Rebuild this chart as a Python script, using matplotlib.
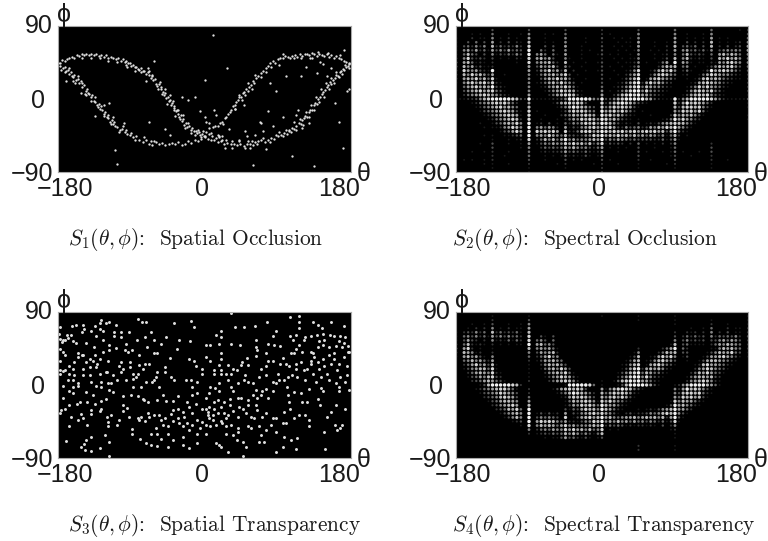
import matplotlib
matplotlib.use("Agg")
import matplotlib.pyplot as plt
import numpy as np

# values, theta / phi in degrees
s1_curve_a = [(-180,45),(-178,44),(-175,48),(-172,47),(-169,49),(-166,50),(-163,52),(-160,51),(-157,54),(-154,53),(-151,55),(-148,54),(-145,56),(-142,54),(-139,55),(-136,54),(-133,55),(-130,53),(-127,54),(-124,52),(-121,54),(-118,51),(-115,52),(-112,50),(-109,49),(-106,50),(-103,47),(-100,49),(-98,46),(-96,47),(-94,44),(-92,45),(-90,41),(-88,42),(-86,39),(-84,40),(-82,37),(-80,36),(-78,38),(-76,34),(-74,35),(-72,31),(-70,33),(-68,29),(-66,26),(-65,29),(-63,23),(-61,25),(-59,19),(-58,16),(-56,18),(-54,12),(-53,15),(-51,9),(-50,5),(-48,8),(-47,1),(-45,3),(-44,-3),(-42,-1),(-41,-7),(-40,-5),(-38,-11),(-37,-9),(-35,-15),(-34,-13),(-32,-19),(-31,-22),(-29,-20),(-28,-27),(-26,-25),(-25,-32),(-23,-29),(-21,-34),(-19,-33),(-17,-38),(-15,-36),(-13,-40),(-11,-39),(-9,-42),(-7,-41),(-5,-44),(-3,-43),(-1,-46),(1,-45)]
s1_curve_b = [(-180,44),(-177,41),(-174,38),(-172,40),(-170,35),(-168,36),(-166,31),(-164,33),(-162,27),(-160,29),(-158,24),(-156,25),(-154,20),(-152,22),(-150,15),(-148,17),(-146,10),(-144,12),(-142,6),(-140,3),(-138,5),(-136,-2),(-134,-4),(-132,-8),(-130,-6),(-128,-12),(-126,-14),(-124,-18),(-122,-16),(-120,-22),(-118,-24),(-116,-28),(-114,-26),(-112,-31),(-110,-33),(-107,-35),(-104,-38),(-101,-37),(-98,-41),(-95,-43),(-92,-44),(-88,-47),(-84,-46),(-80,-50),(-76,-53),(-72,-51),(-68,-55),(-64,-57),(-60,-53),(-56,-56),(-52,-54),(-48,-57),(-44,-55),(-40,-54),(-36,-56),(-32,-53),(-28,-57),(-24,-55),(-20,-52),(-16,-54),(-12,-50),(-8,-52),(-4,-49),(0,-47),(4,-49),(8,-50),(12,-51),(16,-53),(20,-52),(24,-55),(28,-54),(32,-56),(36,-55),(40,-57),(44,-55),(48,-58),(52,-56),(56,-55),(60,-57)]
s1_curve_c = [(6,-36),(10,-35),(13,-33),(16,-33),(19,-30),(21,-28),(23,-31),(25,-24),(27,-22),(29,-19),(31,-16),(33,-13),(35,-9),(37,-7),(39,-4),(41,-1),(43,2),(45,3),(47,7),(49,9),(51,12),(53,10),(55,15),(57,17),(59,22),(61,20),(63,26),(66,28),(69,32),(72,35),(75,38),(78,41),(81,44),(84,47),(87,45),(90,49),(93,51),(96,50),(99,53),(102,52),(105,51),(108,53),(111,54),(114,52),(117,55),(120,53),(123,56),(126,55),(129,54),(132,57),(135,55),(138,53),(141,56),(144,54),(147,53),(150,55),(153,52),(156,54),(159,51),(162,53),(165,50),(168,49),(171,47),(174,46),(177,44),(180,45)]
s1_curve_d = [(62,-53),(66,-52),(70,-51),(74,-53),(78,-50),(82,-48),(86,-49),(90,-46),(94,-44),(98,-42),(101,-43),(104,-39),(107,-36),(110,-37),(113,-33),(116,-30),(118,-31),(120,-26),(122,-24),(124,-21),(126,-22),(128,-16),(130,-13),(132,-14),(134,-8),(136,-5),(138,-6),(140,0),(142,2),(144,6),(146,9),(148,11),(150,15),(152,17),(154,21),(156,19),(158,24),(160,26),(162,29),(164,28),(166,33),(168,35),(170,37),(172,36),(174,40),(176,41),(178,43)]
s1_clumps = [(-176,36),(-171,33),(-167,38),(-163,28),(-159,20),(-155,28),(-151,20),(-147,6),(-143,8),(-139,-2),(-135,2),(-131,-10),(-127,-9),(-123,-21),(-119,-20),(-115,-31),(-111,-28),(-105,-41),(-100,-33),(-96,-38),(-90,-42),(-85,-51),(-74,-47),(-66,-52),(-70,38),(-64,28),(-57,12),(-55,21),(-52,6),(-49,12),(-46,-6),(-43,5),(-39,-2),(-37,-14),(-33,-13),(-30,-25),(-27,-20),(-24,-36),(-20,-29),(-16,-42),(-12,-44),(-8,-38),(-4,-47),(-2,-39),(2,-41),(5,-43),(9,-46),(14,-48),(18,-46),(22,-50),(26,-51),(34,-52),(42,-52),(50,-60),(54,-52),(58,-52),(65,-55),(72,-48),(80,-53),(88,-44),(92,-41),(96,-46),(100,-38),(106,-41),(112,-38),(117,-25),(121,-32),(125,-16),(129,-22),(131,-7),(135,-14),(137,2),(141,-4),(143,12),(147,3),(149,20),(153,12),(155,26),(159,20),(161,33),(165,27),(169,31),(173,42),(177,38),(38,-12),(42,5),(46,-1),(50,5),(54,20),(58,12),(62,29),(70,27),(76,33),(82,39),(-150,51),(-140,50),(-128,50),(-118,47),(-107,46),(-96,42),(-86,35),(-78,33),(-68,34),(96,55),(110,50),(118,50),(130,50),(140,58),(152,57),(166,54)]
s1_stray = [(10,79),(-170,22),(-162,22),(-152,8),(-145,5),(-135,-21),(-123,-8),(-117,-5),(-112,-22),(-110,-63),(-108,-80),(-99,-29),(-95,40),(-72,22),(-68,-28),(-62,47),(-62,-52),(-48,-37),(-42,-44),(-36,-21),(-28,2),(-20,-1),(-12,2),(-6,-15),(0,24),(0,-22),(2,-28),(6,-30),(8,-42),(12,-14),(14,-20),(16,-44),(18,-47),(22,-46),(25,-60),(28,38),(30,-37),(34,-60),(38,-12),(42,-50),(48,-8),(50,-39),(52,-46),(56,-60),(60,-81),(62,-44),(68,-28),(70,-30),(72,-40),(75,-62),(78,-15),(80,20),(84,-33),(88,10),(92,42),(96,-22),(100,28),(104,-38),(108,-70),(110,-28),(113,-20),(115,-13),(118,28),(120,-36),(125,40),(128,-30),(132,50),(135,-82),(138,32),(142,46),(146,43),(150,28),(155,38),(160,-5),(165,-28),(170,-60),(172,60),(175,10),(178,12)]

s3_upper_left = [(-178,72),(-179,63),(-177,57),(-174,56),(-171,55),(-175,53),(-169,62),(-163,73),(-158,74),(-149,74),(-148,69),(-151,65),(-164,62),(-168,58),(-162,54),(-158,52),(-145,52),(-136,47),(-178,45),(-174,41),(-172,37),(-156,39),(-151,37),(-178,30),(-166,24),(-162,20),(-174,17),(-177,14),(-166,14),(-160,12),(-149,20),(-141,22),(-132,26),(-129,32),(-135,37),(-125,41),(-119,30),(-117,49),(-125,55),(-133,61),(-140,67),(-135,73),(-129,76),(-127,80),(-121,77),(-117,78),(-109,74),(-125,67),(-129,69),(-111,65),(-102,65),(-102,59),(-93,65),(-111,60),(-117,43),(-109,46),(-96,51),(-98,43),(-94,41),(-92,28),(-102,28),(-105,24),(-100,20),(-92,22),(-80,25),(-73,26),(-68,26),(-82,14),(-88,14),(-84,10),(-58,16),(-60,10),(-62,6),(-75,20),(-102,16),(-113,12),(-120,16),(-128,14),(-149,12),(-141,12),(-133,22),(-137,30),(-82,81),(-77,78),(-72,78),(-38,76),(-17,79),(-13,71),(-62,56),(-73,59),(-83,56),(-54,50),(-47,59),(-31,56),(-18,54),(-71,47),(-89,43),(-80,37),(-62,39),(-58,39),(-43,33),(-34,44),(-19,32),(-13,30),(-11,24),(-49,22),(-49,16),(-41,10),(-37,6),(-23,6),(-17,6),(-9,4),(-3,14),(-3,20),(-66,65),(-168,6),(-162,6),(-156,2),(-139,4),(-127,4),(-121,16),(-115,2),(-107,6),(-96,6),(-88,8),(-72,4),(-64,4),(-119,2),(-160,28),(-156,35),(-145,28),(-141,32),(-171,18),(-177,19),(-149,37)]
s3_upper_right = [(33,89),(105,84),(116,85),(116,78),(133,78),(139,74),(144,70),(156,78),(171,73),(62,73),(49,71),(37,71),(77,78),(20,67),(14,62),(20,59),(88,67),(84,60),(105,61),(112,62),(116,70),(124,59),(131,60),(138,62),(145,63),(154,62),(159,60),(167,61),(173,59),(63,55),(109,55),(122,55),(141,54),(147,55),(165,54),(171,52),(2,49),(7,49),(18,50),(33,51),(44,49),(63,47),(65,43),(78,50),(86,49),(93,48),(116,49),(112,45),(120,41),(131,41),(139,47),(145,49),(153,47),(161,48),(169,47),(176,48),(177,41),(20,39),(2,35),(7,29),(20,32),(18,25),(29,25),(46,28),(52,33),(63,36),(45,25),(53,25),(76,39),(78,30),(84,29),(97,33),(106,39),(110,40),(133,39),(135,35),(145,32),(159,40),(159,32),(171,35),(176,41),(93,26),(100,26),(104,24),(112,26),(118,28),(131,30),(139,28),(147,24),(155,26),(165,26),(175,24),(75,23),(69,20),(12,18),(20,19),(35,20),(40,18),(12,13),(20,13),(27,13),(33,14),(50,12),(48,6),(75,12),(67,10),(90,13),(92,6),(84,4),(88,3),(98,6),(102,10),(108,12),(114,10),(112,20),(126,20),(133,14),(141,20),(143,10),(151,14),(153,6),(163,18),(167,10),(175,12),(18,3),(29,6),(41,3),(53,4),(59,3),(124,6),(137,4),(161,3),(173,4),(122,18),(131,26),(153,37)]
s3_lower_left = [(-174,-1),(-166,-8),(-162,-10),(-145,-9),(-137,-12),(-127,-2),(-117,-6),(-113,-9),(-121,-17),(-127,-20),(-135,-23),(-144,-21),(-153,-21),(-157,-23),(-174,-16),(-167,-25),(-172,-30),(-176,-31),(-178,-35),(-127,-29),(-128,-32),(-139,-31),(-140,-36),(-152,-36),(-149,-41),(-155,-43),(-164,-40),(-166,-50),(-144,-49),(-120,-40),(-119,-45),(-119,-51),(-105,-43),(-107,-49),(-100,-13),(-90,-12),(-82,-14),(-75,-17),(-100,-25),(-95,-28),(-100,-32),(-115,-37),(-93,-39),(-82,-41),(-78,-39),(-73,-44),(-89,-54),(-89,-61),(-79,-66),(-72,-71),(-66,-60),(-60,-53),(-58,-60),(-70,-34),(-68,-40),(-62,-37),(-56,-37),(-54,-43),(-49,-41),(-51,-49),(-45,-51),(-39,-44),(-33,-41),(-31,-47),(-27,-51),(-21,-47),(-15,-49),(-9,-43),(-3,-46),(-5,-53),(-19,-55),(-54,-66),(-45,-61),(-39,-68),(-27,-64),(-27,-74),(-45,-77),(-58,-75),(-66,-74),(-19,-78),(-9,-71),(-9,-60),(-139,-64),(-145,-68),(-148,-73),(-152,-77),(-147,-80),(-139,-81),(-128,-78),(-117,-70),(-117,-87),(-122,-62),(-170,-69),(-74,-18),(-70,-21),(-58,-18),(-51,-12),(-47,-20),(-39,-20),(-33,-14),(-21,-21),(-15,-12),(-15,-3),(-9,-10),(-39,-31),(-33,-29),(-27,-33),(-19,-27),(-11,-23),(-3,-29),(-15,-35),(-41,-36),(-25,-39),(-88,-3),(-78,-3),(-56,-2),(-162,-2),(-156,-1),(-133,-1),(-80,-43)]
s3_lower_right = [(7,-3),(13,-4),(33,-2),(35,-8),(18,-8),(6,-10),(2,-16),(17,-18),(24,-21),(31,-17),(41,-16),(45,-16),(53,-18),(59,-12),(63,-6),(71,-7),(75,-5),(84,-7),(69,-12),(65,-16),(78,-16),(101,-2),(102,-12),(110,-9),(118,-10),(129,-5),(143,-4),(145,-7),(165,-2),(165,-8),(177,-6),(104,-21),(120,-21),(126,-21),(139,-17),(142,-25),(161,-25),(173,-29),(2,-30),(6,-27),(4,-33),(12,-30),(20,-27),(24,-35),(29,-37),(35,-32),(43,-27),(47,-30),(51,-35),(63,-25),(65,-31),(75,-35),(71,-39),(84,-41),(88,-41),(98,-33),(105,-30),(116,-37),(124,-37),(110,-41),(155,-33),(150,-39),(6,-41),(10,-43),(20,-44),(27,-41),(22,-47),(2,-49),(7,-51),(14,-49),(27,-51),(33,-49),(41,-53),(53,-51),(57,-53),(67,-51),(75,-55),(82,-49),(88,-58),(96,-47),(100,-47),(98,-64),(106,-68),(114,-65),(129,-43),(129,-51),(147,-58),(160,-49),(163,-55),(167,-53),(169,-49),(2,-60),(27,-60),(35,-62),(41,-58),(40,-68),(47,-70),(51,-76),(14,-72),(18,-74),(20,-77),(67,-70),(73,-70),(69,-62),(96,-77),(112,-79),(88,-83),(29,-83),(47,-87),(148,-79),(4,-37),(10,-37),(16,-35),(57,-39),(61,-41),(53,-25),(41,-39),(31,-25),(12,-21)]

# brightness 0-9 on a 5 degree lattice, top row phi=90, left column theta=-180
s2_rows = [
"1 000000001 000000002 000000001 000000002 000000001 000000002 000000001 000000001",
"2 000000003 000000003 000000003 000000002 000000003 000000004 000000004 000000102",
"2 000101004 000100105 000101004 000000002 010000005 000000005 001000105 000000003",
"3 000201105 010201006 000100005 000010003 001010105 000000006 001010106 010100004",
"3 003040306 020302107 000101005 000010002 000101106 000100106 003020207 010101205",
"3 034252507 242325208 000303006 000100003 001010106 000100207 034240307 020302306",
"3 056362416 353634309 004204005 000101003 000101015 001010206 056342415 034545406",
"3 047430305 132425309 056404106 000100013 010100105 000101205 047323204 067576405",
"4 058323203 010102108 067563005 100100002 001010115 000101307 057212103 076867504",
"5 067412102 000001008 056674207 010010013 000101125 010014609 065101102 165786505",
"5 075623112 000000006 036567305 200100003 010010135 000025767 045010013 576785304",
"4 086563219 000000006 025685627 020010013 001001258 001368685 024100139 678764203",
"4 075867536 001000005 014667568 301000003 000102468 002578754 012001468 765532102",
"4 067685748 100000005 003576867 410010003 010013579 016786542 001013786 764321102",
"3 057867858 210000005 012467586 530100003 000124689 268675320 000126787 653210002",
"2 046786769 321000005 001256768 641000004 001235789 476553210 001358686 542100002",
"2 035678678 431000005 000135687 762100005 010246899 585432100 002578768 431000002",
"1 024567876 532100006 000024678 873100006 002478989 664321000 013678785 321000001",
"3 112235789 999987329 111112235 999998549 335789999 976321119 257999998 642111113",
"1 000124567 878642006 000001367 878730008 257898753 210000008 269787642 000000001",
"1 000012456 786754007 000000135 798764308 468787631 000000007 378878531 000000001",
"1 000001345 678763108 010000013 687875409 678686420 100000006 487868410 000000000",
"1 000000124 567876108 000100024 576787619 786753210 001000028 576753100 000000001",
"1 000000012 456787208 001000102 465878759 867532101 000001249 686532000 000000001",
"0 000001001 346768509 012030104 254687859 875312103 012135678 775310000 000000000",
"0 000000101 125687509 056465206 132567868 786325345 236576879 653100000 000000000",
"0 000000000 013468609 087878608 224788679 878786786 787867369 421000000 000000000",
"0 000000101 001123409 056586547 332355879 676867575 646535147 201000000 000000000",
"0 000000001 000101208 024757469 564556769 354654343 333224136 100000000 000000000",
"0 000001003 000100106 013546558 686757358 132320204 010102025 000000002 000000000",
"0 000000003 000000105 002434347 575453246 010101003 000100014 000000003 000000000",
"0 000100102 000100004 001212236 343242125 000100003 010001014 010001003 000000000",
"0 000000002 001000004 000101014 121131014 000000003 000000013 000100002 000000000",
"0 010100102 000000003 000100003 010100003 010000002 001000003 000000002 000100000",
"0 000000101 000100002 000000102 000000102 000100001 000000102 000000001 000000000",
"0 000000001 000000001 000000001 000000002 000000001 000000001 000000001 000000000",
"0 000000000 000000001 000000000 000000002 000000000 000000000 000000000 000000000",
]

s4_rows = [
"0 000000000 000000001 000000000 000000001 000000000 000000001 000000000 000000000",
"1 000000001 000000001 000000000 000000001 000000001 000000001 000000000 000000001",
"1 000000002 000000003 000000000 000000000 000000001 000000001 000000001 000000001",
"1 000100103 000100105 000000000 000000000 000000000 000000001 000000002 000100001",
"2 001020205 010201106 000000000 000000000 000000000 000000000 000100104 000201102",
"3 023252407 242324107 000000000 000000000 000000000 000000002 002120205 020301102",
"3 045352416 353534208 003103000 000000000 000000000 000000003 024242305 243435203",
"3 036320205 121414208 045304000 000000000 000000000 000000005 035232303 356465302",
"4 047212102 010101109 067453000 000000000 000000000 000000017 034111102 465765402",
"5 068201001 000000007 056564100 000000000 000000002 000002469 042000001 157675402",
"4 076512002 000000005 036567200 000000000 000000015 000024767 033000013 576684301",
"3 067563105 000000004 024685500 000000000 000000137 001268685 013000136 678653101",
"2 045756426 000000002 013667540 000000000 000001367 012578653 001001367 765421000",
"1 024685637 100000001 002576753 000000000 000012578 016786431 000012786 654210000",
"0 013567748 100000001 001467586 300000000 000013689 267675210 000025687 543100000",
"0 002467658 210000001 000256768 410000000 000135789 476442100 000247686 431000000",
"0 001346578 320000001 000135687 631000000 000246899 585321000 001467767 320000000",
"0 000234676 431000002 000024678 752000001 001478989 664210000 002567875 210000000",
"0 000001379 999987200 000000001 999998401 000137999 986310001 257999976 410000000",
"0 000012456 788641002 000001367 878730006 157898743 100000005 269787531 000000000",
"0 000001345 687653002 000000135 798764207 468787521 000000005 378878421 000000000",
"0 000000234 578763004 000000012 687875307 578686310 000000006 487867310 000000000",
"0 000000013 467765006 000000001 476787518 686542100 000000018 576642100 000000000",
"0 000000002 356786007 000000001 365878649 766421000 000000139 675421000 000000000",
"0 000000000 234768409 000000003 143687759 764210001 012135679 664200000 000000000",
"0 000000000 013567509 013131206 032567868 653102312 235457879 531000000 000000000",
"0 000000000 001357509 035454308 013678679 675456675 676757269 310000000 000000000",
"0 000000000 000012309 068787546 221355879 565756464 535424138 100000000 000000000",
"0 000000000 000000108 057676468 564556769 243431212 212103025 000000000 000000000",
"0 000000000 000000005 024546558 686757458 010100000 000000012 000000000 000000000",
"0 000000000 000000002 012324347 575353147 000000000 000000001 000000000 000000000",
"0 000000000 000000000 000101136 342131013 000000000 000000001 000000000 000000000",
"0 000000000 000000000 000000000 000000000 000000000 000000000 000000000 000000000",
"0 000000000 000000000 000000000 000000000 000000002 000000001 000000000 000000000",
"0 000000000 000000000 000000000 000000000 000000002 000000001 000000000 000000000",
"0 000000000 000000000 000000000 000000000 000000000 000000000 000000000 000000000",
"0 000000000 000000000 000000000 000000000 000000000 000000000 000000000 000000000",
]

captions = [r"$S_1(\theta,\phi)$:  Spatial Occlusion", r"$S_2(\theta,\phi)$:  Spectral Occlusion",
            r"$S_3(\theta,\phi)$:  Spatial Transparency", r"$S_4(\theta,\phi)$:  Spectral Transparency"]

W, H = 768, 541
plt.rcParams["mathtext.fontset"] = "cm"
sans = ["Liberation Sans", "DejaVu Sans"]
ink = "#1a1a1a"


def make_axes(fig, left, top, right, bottom):
    ax = fig.add_axes([left / W, 1 - bottom / H, (right - left) / W, (bottom - top) / H])
    ax.set_facecolor("black")
    ax.set_xlim(-180, 180)
    ax.set_ylim(-90, 90)
    for s in ax.spines.values():
        s.set_color("#a8a8a8")
        s.set_linewidth(0.8)
    ax.set_xticks([])
    ax.set_yticks([])
    # tick labels sit off-centre in the original, so they are placed one by one
    labels = [("\u221290", -180, -90, -5, -2, "right"), ("0", -180, 0, -13, -2, "right"), ("90", -180, 90, -5, 0, "right"),
              ("\u2212180", -180, -90, 7, -17, "center"), ("0", 0, -90, -3, -17, "center"), ("180", 180, -90, -12, -17, "center"),
              ("\u03d5", -180, 90, 6, 11, "center"), ("\u03b8", 180, -90, 13, -2, "center")]
    for txt, x, y, dx, dy, ha in labels:
        ax.annotate(txt, xy=(x, y), xytext=(dx, dy), textcoords="offset pixels",
                    family=sans, fontsize=18, ha=ha, va="center", color=ink)
    return ax


def dots(ax, size, *groups):
    pts = np.array([p for g in groups for p in g], dtype=float)
    ax.scatter(pts[:, 0], pts[:, 1], s=size, c="#e0e0e0", linewidths=0)


def grid_dots(ax, rows):
    levels = np.array([[int(c) for c in r.replace(" ", "").ljust(73, "0")[:73]] for r in rows], dtype=float)
    theta, phi = np.meshgrid(np.linspace(-180, 180, levels.shape[1]), np.linspace(90, -90, levels.shape[0]))
    keep = levels > 0
    ax.scatter(theta[keep], phi[keep], s=1.2 + levels[keep] * 0.55, c=levels[keep],
               cmap="gray", vmin=0, vmax=9.5, linewidths=0)


fig = plt.figure(figsize=(W / 100, H / 100), dpi=100)
ax1 = make_axes(fig, 58, 26, 351, 172)
ax2 = make_axes(fig, 456, 26, 748, 172)
ax3 = make_axes(fig, 58, 312, 351, 458)
ax4 = make_axes(fig, 456, 312, 748, 458)

dots(ax1, 2.8, s1_curve_a, s1_curve_b, s1_curve_c, s1_curve_d, s1_clumps, s1_stray)
grid_dots(ax2, s2_rows)
dots(ax3, 4.5, s3_upper_left, s3_upper_right, s3_lower_left, s3_lower_right)
grid_dots(ax4, s4_rows)

cap_pos = [(68, 245), (452, 245), (68, 531), (452, 531)]
for (x, y), cap in zip(cap_pos, captions):
    fig.text(x / W, 1 - y / H, cap, family="cmr10", fontsize=15.4, ha="left", va="baseline", color=ink)

fig.savefig("out.png", dpi=100)
